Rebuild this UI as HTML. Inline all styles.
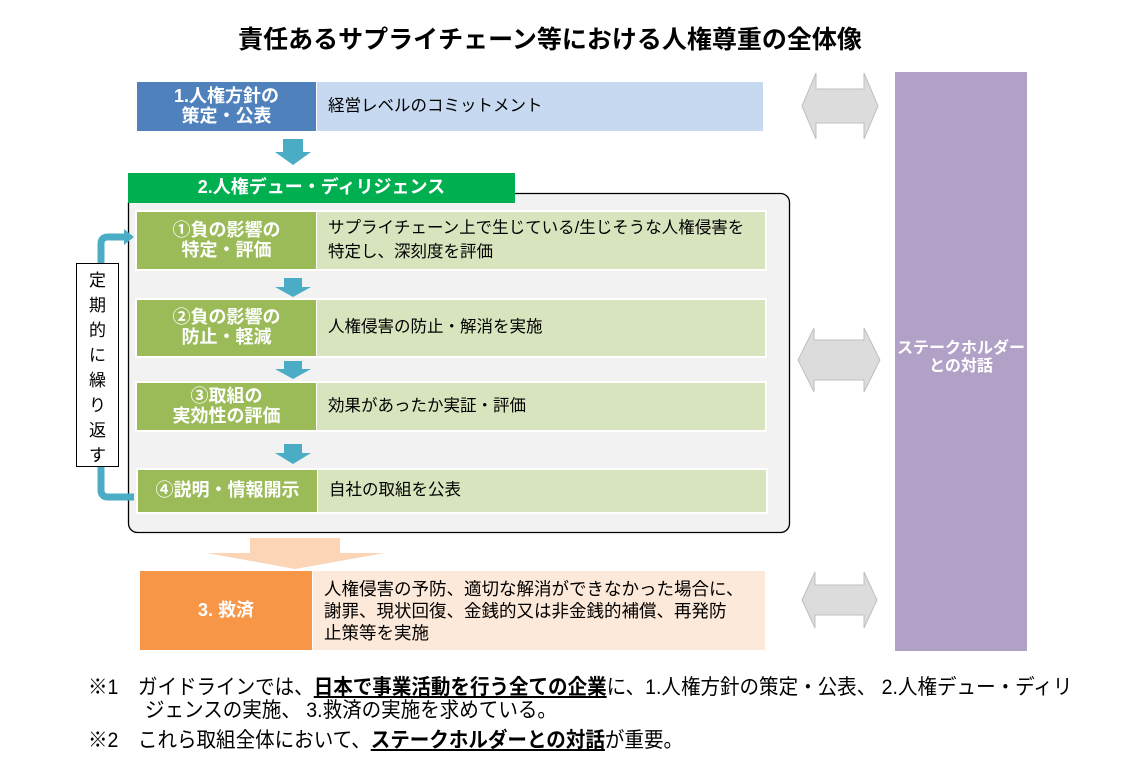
<!DOCTYPE html>
<html><head><meta charset="utf-8"><style>
*{margin:0;padding:0;box-sizing:border-box}
body{width:1124px;height:775px;background:#fff;position:relative;overflow:hidden;font-family:"Liberation Sans","Noto Sans CJK JP",sans-serif;color:#000}
.a{position:absolute}
.lab{position:absolute;color:#fff;font-weight:bold;display:flex;align-items:center;justify-content:center;text-align:center;line-height:1.1;font-size:18px}
.desc{position:absolute;display:flex;align-items:center;padding-left:11px;font-size:16.5px;line-height:1.45}
.fn{position:absolute;font-size:21px;white-space:nowrap;transform-origin:0 0}
.fn b{text-decoration:underline}
</style></head><body>
<div class="a" style="left:-12px;top:20px;width:1124px;text-align:center;font-size:25px;font-weight:bold">責任あるサプライチェーン等における人権尊重の全体像</div>

<div class="lab" style="left:137px;top:82px;width:179px;height:49px;background:#4f81bd">1.人権方針の<br>策定・公表</div>
<div class="desc" style="left:317px;top:82px;width:446px;height:49px;background:#c6d9f1">経営レベルのコミットメント</div>

<svg class="a" style="left:0;top:0" width="1124" height="775">
<polygon points="283,139 303,139 303,152 311,152 293,165 275,152 283,152" fill="#4bacc6"/>
<rect x="128.5" y="193.5" width="661" height="339" rx="9" fill="#f2f2f2" stroke="#000" stroke-width="1.3"/>
<polygon points="284,278 302,278 302,287 311,287 293,297 275,287 284,287" fill="#4bacc6"/>
<polygon points="284,361 302,361 302,369 311,369 293,379 275,369 284,369" fill="#4bacc6"/>
<polygon points="284,444 302,444 302,453 311,453 293,464 275,453 284,453" fill="#4bacc6"/>
<path d="M101,264 V244 Q101,237 108,237 H126" fill="none" stroke="#4bacc6" stroke-width="7"/>
<polygon points="124,229 134,237 124,245" fill="#4bacc6"/>
<path d="M101,466 V490 Q101,497 108,497 H134" fill="none" stroke="#4bacc6" stroke-width="7"/>
<polygon points="250,538 340,538 340,553 385,553 295,569 207,553 250,553" fill="#fbd5b5"/>
<g fill="#dcdcdc" stroke="#bfbfbf" stroke-width="1">
<polygon points="802,106 816,73 816,89 864,89 864,73 878,106 864,139 864,123 816,123 816,139"/>
<polygon points="798,360 814,328 814,340 864,340 864,328 880,360 864,392 864,380 814,380 814,392"/>
<polygon points="802,600 815,572 815,585 864,585 864,572 877,600 864,628 864,615 815,615 815,628"/>
</g>
</svg>

<div class="lab" style="left:128px;top:173px;width:387px;height:30px;background:#00b050;font-size:18px">2.人権デュー・ディリジェンス</div>

<div class="a" style="left:135px;top:210px;width:632px;height:61px;background:#fff"></div>
<div class="lab" style="left:137px;top:212px;width:179px;height:57px;background:#9bbb59">①負の影響の<br>特定・評価</div>
<div class="desc" style="left:317px;top:212px;width:448px;height:57px;background:#d7e4bd">サプライチェーン上で生じている/生じそうな人権侵害を<br>特定し、深刻度を評価</div>

<div class="a" style="left:135px;top:298px;width:632px;height:60px;background:#fff"></div>
<div class="lab" style="left:137px;top:300px;width:179px;height:56px;background:#9bbb59">②負の影響の<br>防止・軽減</div>
<div class="desc" style="left:317px;top:300px;width:448px;height:56px;background:#d7e4bd">人権侵害の防止・解消を実施</div>

<div class="a" style="left:135px;top:381px;width:632px;height:51px;background:#fff"></div>
<div class="lab" style="left:137px;top:383px;width:179px;height:47px;background:#9bbb59">③取組の<br>実効性の評価</div>
<div class="desc" style="left:317px;top:383px;width:448px;height:47px;background:#d7e4bd">効果があったか実証・評価</div>

<div class="a" style="left:136px;top:468px;width:632px;height:46px;background:#fff"></div>
<div class="lab" style="left:138px;top:470px;width:179px;height:42px;background:#9bbb59">④説明・情報開示</div>
<div class="desc" style="left:318px;top:470px;width:448px;height:42px;background:#d7e4bd">自社の取組を公表</div>

<div class="a" style="left:76px;top:263px;width:43px;height:204px;border:1px solid #000;background:#fff;font-size:17px;line-height:25px;text-align:center;padding-top:4px">定<br>期<br>的<br>に<br>繰<br>り<br>返<br>す</div>

<div class="lab" style="left:140px;top:571px;width:172px;height:79px;background:#f79646">3. 救済</div>
<div class="desc" style="left:313px;top:571px;width:452px;height:79px;background:#fde9d9;line-height:22px;font-size:17.5px">人権侵害の予防、適切な解消ができなかった場合に、<br>謝罪、現状回復、金銭的又は非金銭的補償、再発防<br>止策等を実施</div>

<div class="a" style="left:895px;top:72px;width:132px;height:579px;background:#b2a1c7"></div>
<div class="lab" style="left:895px;top:338px;width:132px;height:40px;font-size:16px">ステークホルダー<br>との対話</div>

<div class="fn" style="left:88px;top:671px;transform:scaleX(0.93)">※1　ガイドラインでは、<b>日本で事業活動を行う全ての企業</b>に、1.人権方針の策定・公表、 2.人権デュー・ディリ</div>
<div class="fn" style="left:145px;top:694px;transform:scaleX(0.93)">ジェンスの実施、 3.救済の実施を求めている。</div>
<div class="fn" style="left:88px;top:724px;transform:scaleX(0.93)">※2　これら取組全体において、<b>ステークホルダーとの対話</b>が重要。</div>
</body></html>
